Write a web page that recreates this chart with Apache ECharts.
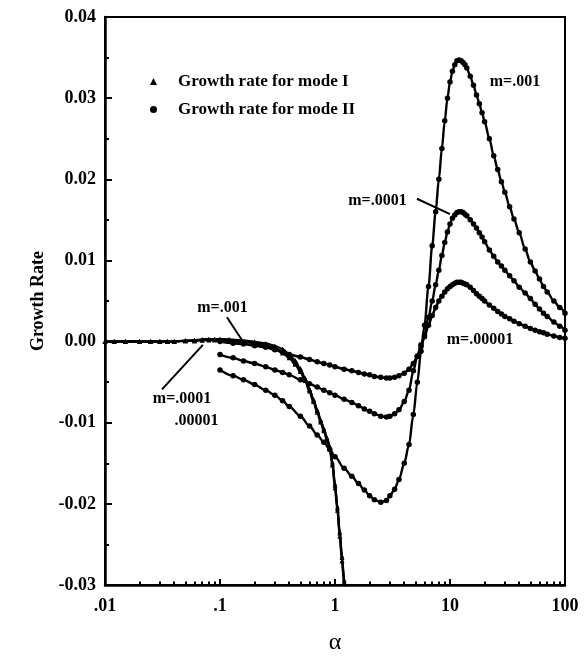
<!DOCTYPE html>
<html><head><meta charset="utf-8">
<script src="https://cdn.jsdelivr.net/npm/echarts@6/dist/echarts.min.js"></script>
<style>html,body{margin:0;padding:0;background:#fff}#c{width:588px;height:663px}</style>
</head><body><div id="c"></div>
<script>
// ---- data ----
const alphaModeII = [0.1,0.13,0.16,0.2,0.25,0.3,0.35,0.4,0.5,0.6,0.7,0.8,0.9,1.0,1.2,1.4,1.6,1.8,2.0,2.2,2.5,2.8,3.0,3.3,3.6,4.0,4.4,4.8,5.2,5.6,6.0,6.5,7.0,7.5,8.0,8.5,9.0,9.5,10,10.5,11,11.5,12,12.5,13,13.5,14,15,16,17,18,19,20,22,24,26,28,30,33,36,40,45,50,55,60,65,70,80,90,100];
const rateII_m001 = [-0.0035,-0.0042,-0.0047,-0.0053,-0.0060,-0.0066,-0.0073,-0.0080,-0.0092,-0.0104,-0.0115,-0.0124,-0.0133,-0.0142,-0.0156,-0.0166,-0.0175,-0.0183,-0.0190,-0.0195,-0.0198,-0.0196,-0.0190,-0.0182,-0.0170,-0.0150,-0.0127,-0.0090,-0.0050,-0.0012,0.0020,0.0068,0.0118,0.0160,0.0200,0.0238,0.0272,0.0300,0.0320,0.0333,0.0341,0.0346,0.0347,0.0346,0.0344,0.0341,0.0337,0.0327,0.0316,0.0304,0.0293,0.0282,0.0271,0.0250,0.0229,0.0212,0.0197,0.0184,0.0166,0.0151,0.0134,0.0114,0.0098,0.0087,0.0077,0.0068,0.0061,0.0050,0.0042,0.0035];
const rateII_m0001 = [-0.0016,-0.0020,-0.0024,-0.0027,-0.0031,-0.0035,-0.0038,-0.0041,-0.0047,-0.0052,-0.0056,-0.0060,-0.0063,-0.0066,-0.0071,-0.0075,-0.0079,-0.0083,-0.0086,-0.0089,-0.0092,-0.0093,-0.0092,-0.0089,-0.0084,-0.0074,-0.0060,-0.0036,-0.0018,-0.0004,0.0008,0.0030,0.0050,0.0070,0.0088,0.0106,0.0122,0.0135,0.0145,0.0152,0.0156,0.0159,0.0160,0.0160,0.0159,0.0157,0.0155,0.0150,0.0145,0.0140,0.0134,0.0129,0.0123,0.0113,0.0105,0.0098,0.0093,0.0088,0.0081,0.0075,0.0067,0.0060,0.0053,0.0046,0.0040,0.0035,0.0031,0.0024,0.0019,0.0014];
const rateII_m00001 = [0.0000,-0.0002,-0.0003,-0.0005,-0.0007,-0.0010,-0.0013,-0.0016,-0.0019,-0.0022,-0.0025,-0.0027,-0.0029,-0.0031,-0.0034,-0.0036,-0.0038,-0.0040,-0.0041,-0.0043,-0.0044,-0.0045,-0.0045,-0.0044,-0.0042,-0.0039,-0.0034,-0.0027,-0.0018,-0.0006,0.0006,0.0020,0.0032,0.0042,0.0050,0.0056,0.0061,0.0065,0.0068,0.0070,0.0072,0.0073,0.0073,0.0073,0.0072,0.0071,0.0070,0.0067,0.0063,0.0059,0.0056,0.0053,0.0050,0.0045,0.0041,0.0037,0.0034,0.0031,0.0028,0.0025,0.0022,0.0019,0.0016,0.0014,0.0012,0.0011,0.0009,0.0007,0.0005,0.0004];

const alphaModeI = [0.01,0.012,0.015,0.02,0.025,0.03,0.035,0.04,0.05,0.06,0.07,0.08,0.09,0.1,0.12,0.15,0.2,0.25,0.3,0.35,0.4,0.45,0.5,0.55,0.6,0.65,0.7,0.75,0.8,0.85,0.9,0.95,1.0,1.05,1.1,1.15,1.2,1.25];
const rateI_m001 = [0,0,0,0,0,0,0,0,0.0001,0.0002,0.0003,0.0003,0.0003,0.0003,0.0003,0.0002,0.0000,-0.0002,-0.0005,-0.0009,-0.0015,-0.0023,-0.0033,-0.0045,-0.0058,-0.0071,-0.0084,-0.0096,-0.0107,-0.0118,-0.0129,-0.0148,-0.0175,-0.0203,-0.0234,-0.0264,-0.0293,-0.0321];
const rateI_m0001 = [0,0,0,0,0,0,0,0,0.0001,0.0001,0.0002,0.0003,0.0003,0.0003,0.0002,0.0001,-0.0001,-0.0004,-0.0008,-0.0012,-0.0018,-0.0026,-0.0035,-0.0046,-0.0059,-0.0072,-0.0085,-0.0097,-0.0108,-0.0119,-0.0130,-0.0150,-0.0177,-0.0205,-0.0236,-0.0266,-0.0295,-0.0323];
const rateI_m00001 = [0,0,0,0,0,0,0,0,0.0001,0.0001,0.0002,0.0002,0.0002,0.0002,0.0001,0.0000,-0.0002,-0.0005,-0.0009,-0.0014,-0.0020,-0.0028,-0.0037,-0.0048,-0.0061,-0.0074,-0.0087,-0.0099,-0.0110,-0.0121,-0.0132,-0.0152,-0.0180,-0.0208,-0.0240,-0.0270,-0.0298,-0.0326];

const xTickValues = [0.01,0.1,1,10,100];
const xTickLabels = ['.01','.1','1','10','100'];
const xMinorTickValues = [0.02,0.03,0.04,0.05,0.06,0.07,0.08,0.09,0.2,0.3,0.4,0.5,0.6,0.7,0.8,0.9,2,3,4,5,6,7,8,9,20,30,40,50,60,70,80,90];

const legendNames = ['Growth rate for mode I','Growth rate for mode II'];

// annotations (data coordinates)
const noteText = ['m=.001','m=.0001','m=.00001','m=.001','m=.0001','.00001'];
const noteAlpha = [36.7, 2.34, 18.2, 0.105, 0.0468, 0.0625];
const noteRate = [0.0320, 0.0173, 0.0002, 0.0041, -0.0071, -0.0098];
const leaderFromAlpha = [5.16, 0.115, 0.0313];
const leaderFromRate = [0.0176, 0.0030, -0.0059];
const leaderToAlpha = [10.0, 0.155, 0.071];
const leaderToRate = [0.0157, 0.0002, -0.0004];

// ---- chart ----
const FONT = 'Liberation Serif';
const chart = echarts.init(document.getElementById('c'), null, {renderer:'canvas'});
function pairs(xs, ys){ return xs.map((x,i)=>[x, ys[i]]); }
function mkSeries(name, xs, ys, symbol, size, width){
  return {
    type:'line', name:name, xAxisIndex:0, yAxisIndex:0,
    data: pairs(xs, ys),
    symbol: symbol, symbolSize: size, showSymbol: true,
    smooth: 0.3, smoothMonotone: 'x',
    lineStyle:{color:'#000', width: width},
    itemStyle:{color:'#000'},
    emphasis:{disabled:true}, silent:true, clip:true, z:3
  };
}
function fmtX(v){
  const i = xTickValues.findIndex(t => Math.abs(Math.log10(t) - Math.log10(v)) < 1e-6);
  return i >= 0 ? xTickLabels[i] : '';
}
const axisFont = {fontFamily:FONT, fontSize:18, fontWeight:'bold', color:'#000'};
const option = {
  animation:false,
  backgroundColor:'#fff',
  grid:{left:105, right:23, top:17, bottom:78, show:true, borderColor:'#000', borderWidth:2, backgroundColor:'transparent'},
  legend:{
    data:[{name:legendNames[0], icon:'triangle'},{name:legendNames[1], icon:'circle'}],
    orient:'vertical', left:145, top:68, itemWidth:7, itemHeight:7, itemGap:11,
    selectedMode:false,
    textStyle:{fontFamily:FONT, fontSize:17, fontWeight:'bold', color:'#000', padding:[0,0,0,16]}
  },
  xAxis:[{
    type:'log', logBase:10, min:0.01, max:100, position:'bottom',
    axisLine:{show:true, onZero:false, lineStyle:{color:'#000', width:2.5}},
    axisTick:{show:true, inside:true, length:6, lineStyle:{color:'#000', width:2}, customValues:xTickValues},
    axisLabel:Object.assign({margin:12, formatter:fmtX, customValues:xTickValues}, axisFont),
    splitLine:{show:false}, minorTick:{show:false},
    name:'α', nameLocation:'middle', nameGap:46,
    nameTextStyle:{fontFamily:FONT, fontSize:24, color:'#000'}
  },{
    type:'log', logBase:10, min:0.01, max:100, position:'bottom',
    axisLine:{show:false, onZero:false},
    axisTick:{show:true, inside:true, length:3.5, lineStyle:{color:'#000', width:2}, customValues:xMinorTickValues},
    axisLabel:{show:false}, splitLine:{show:false}
  }],
  yAxis:{
    type:'value', min:-0.03, max:0.04, interval:0.01,
    axisLine:{show:true, onZero:false, lineStyle:{color:'#000', width:2.5}},
    axisTick:{show:true, inside:true, length:7, lineStyle:{color:'#000', width:2}},
    minorTick:{show:true, splitNumber:2, length:4, lineStyle:{color:'#000', width:2}},
    axisLabel:Object.assign({margin:9, formatter:v => v.toFixed(2)}, axisFont),
    splitLine:{show:false},
    name:'Growth Rate', nameLocation:'middle', nameGap:56,
    nameTextStyle:{fontFamily:FONT, fontSize:18, fontWeight:'bold', color:'#000'}
  },
  series:[
    mkSeries(legendNames[0], alphaModeI, rateI_m001, 'triangle', 4.5, 1.8),
    mkSeries(legendNames[0], alphaModeI, rateI_m0001, 'triangle', 5, 2.4),
    mkSeries(legendNames[0], alphaModeI, rateI_m00001, 'triangle', 5, 2.4),
    mkSeries(legendNames[1], alphaModeII, rateII_m001, 'circle', 5.5, 2.4),
    mkSeries(legendNames[1], alphaModeII, rateII_m0001, 'circle', 5.5, 2.4),
    mkSeries(legendNames[1], alphaModeII, rateII_m00001, 'circle', 5.5, 2.6)
  ]
};
chart.setOption(option);

// annotations positioned through the chart's own coordinate system
const g = [];
noteText.forEach((t,i) => {
  const p = chart.convertToPixel({xAxisIndex:0, yAxisIndex:0}, [noteAlpha[i], noteRate[i]]);
  g.push({type:'text', x:p[0], y:p[1], silent:true, z:10,
    style:{text:t, fill:'#000', font:'bold 16px "Liberation Serif"', align:'center', verticalAlign:'middle'}});
});
leaderFromAlpha.forEach((a,i) => {
  const p1 = chart.convertToPixel({xAxisIndex:0, yAxisIndex:0}, [a, leaderFromRate[i]]);
  const p2 = chart.convertToPixel({xAxisIndex:0, yAxisIndex:0}, [leaderToAlpha[i], leaderToRate[i]]);
  g.push({type:'line', silent:true, z:10, shape:{x1:p1[0], y1:p1[1], x2:p2[0], y2:p2[1]}, style:{stroke:'#000', lineWidth:2}});
});
chart.setOption({graphic:g});
</script></body></html>
